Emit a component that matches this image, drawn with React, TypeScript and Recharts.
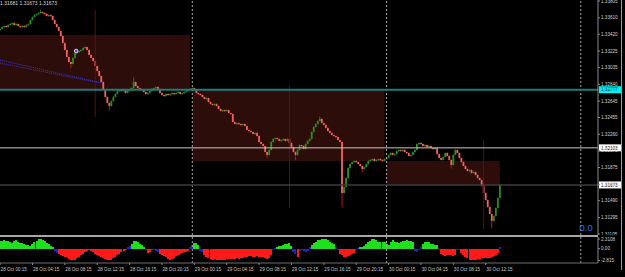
import React from 'react';
import {
  ComposedChart,
  Bar,
  XAxis,
  YAxis,
  ReferenceLine,
  ReferenceArea,
  ReferenceDot,
} from 'recharts';

// ---------------- DATA ----------------
// M15 closes, bar index 1 = 28 Oct 00:15
const closes = [
  1.33481, 1.33504, 1.33516, 1.33504, 1.33527, 1.33539, 1.3355, 1.33527, 1.33539, 1.33516,
  1.33504, 1.33516, 1.33504, 1.33527, 1.33539, 1.33585, 1.3362, 1.33643, 1.33655, 1.33666,
  1.33678, 1.33666, 1.33655, 1.33632, 1.33643, 1.33632, 1.33585, 1.33539, 1.33504, 1.33458,
  1.334, 1.33319, 1.33238, 1.33156, 1.33098, 1.33075, 1.33145, 1.33203, 1.33214, 1.33226,
  1.33238, 1.33261, 1.33272, 1.33238, 1.3318, 1.33145, 1.3311, 1.33052, 1.32994, 1.32936,
  1.32867, 1.32774, 1.32693, 1.32623, 1.32589, 1.32646, 1.32693, 1.32728, 1.32762, 1.32774,
  1.32762, 1.32774, 1.32739, 1.32762, 1.32774, 1.32797, 1.32867, 1.3282, 1.32797, 1.32786,
  1.32774, 1.32751, 1.32728, 1.32739, 1.32762, 1.32786, 1.32797, 1.32809, 1.32786, 1.32739,
  1.32716, 1.32704, 1.32728, 1.32716, 1.32728, 1.32739, 1.32728, 1.32739, 1.32751, 1.32728,
  1.32739, 1.32751, 1.32762, 1.32774, 1.32786, 1.32797, 1.32774, 1.32739, 1.32728, 1.32716,
  1.32693, 1.3267, 1.32681, 1.32635, 1.32612, 1.326, 1.32612, 1.32589, 1.32554, 1.32531,
  1.32542, 1.32531, 1.32542, 1.32507, 1.32496, 1.32403, 1.3238, 1.32391, 1.3238, 1.32368,
  1.3238, 1.32357, 1.3231, 1.32299, 1.32287, 1.32264, 1.32276, 1.32241, 1.32171, 1.32148,
  1.32125, 1.32055, 1.32021, 1.32079, 1.32171, 1.32206, 1.32218, 1.32206, 1.32183, 1.32194,
  1.32206, 1.32183, 1.32206, 1.3216, 1.32113, 1.32055, 1.32021, 1.32079, 1.32136, 1.32125,
  1.3209, 1.32148, 1.32183, 1.32206, 1.32287, 1.32345, 1.3238, 1.32415, 1.32438, 1.32391,
  1.32368, 1.32334, 1.32299, 1.32276, 1.32252, 1.32241, 1.32229, 1.32194, 1.32171, 1.3158,
  1.3165, 1.31754, 1.3187, 1.31916, 1.31939, 1.31951, 1.31939, 1.31916, 1.31893, 1.31858,
  1.31882, 1.31916, 1.31951, 1.31963, 1.31974, 1.31951, 1.31963, 1.31974, 1.31963, 1.31951,
  1.31974, 1.31986, 1.32021, 1.32044, 1.32021, 1.32032, 1.32067, 1.32079, 1.32067, 1.32079,
  1.32055, 1.32044, 1.32009, 1.32021, 1.32055, 1.32079, 1.32148, 1.3216, 1.32148, 1.32125,
  1.32136, 1.32113, 1.32125, 1.32102, 1.3209, 1.32102, 1.32032, 1.31986, 1.31963, 1.31997,
  1.32044, 1.32009, 1.31963, 1.31905, 1.32021, 1.32079, 1.32044, 1.31986, 1.31939, 1.31893,
  1.31858, 1.31835, 1.31847, 1.31812, 1.31824, 1.31789, 1.31754, 1.31731, 1.31661, 1.3158,
  1.31499, 1.31418, 1.31337, 1.31256, 1.31314, 1.31406, 1.31522, 1.31673,
];
const firstOpen = 1.33469;
const wickHighs: Record<number, number> = { 67: 1.32913, 159: 1.32461, 21: 1.33701 };
const wickLows: Record<number, number> = {
  36: 1.33029, 55: 1.32542, 133: 1.31986, 147: 1.31963, 170: 1.31418,
  180: 1.31824, 224: 1.3187, 244: 1.31175,
};

// oscillator histogram, same bar index
const histValues = [
  1.9, 1.9, 2.0, 1.9, 1.8, 1.5, 1.3, 1.8, 2.0, 1.7,
  1.3, 1.3, 1.1, 0.85, 0.8, 0.6, 1.0, 1.6, 1.9, 2.2,
  2.3, 2.0, 1.8, 1.4, 1.1, 0.7, 0.4, -0.5, -1.1, -1.3,
  -1.5, -1.7, -1.9, -2.1, -2.4, -2.7, -2.8, -2.6, -2.3, -2.0,
  -1.6, -1.2, -0.8, -0.5, -0.4, -0.6, -0.9, -1.2, -1.5, -1.7,
  -1.9, -2.2, -2.5, -2.7, -2.8, -2.6, -2.3, -1.9, -1.5, -1.2,
  -0.9, -0.6, -0.4, 0.3, 0.6, 1.2, 1.9, 1.8, 1.6, 1.2,
  0.8, 0.5, -0.3, -1.0, -0.8, -0.3, -0.2, -0.6, -0.7, -1.2,
  -1.5, -1.8, -2.1, -2.4, -2.7, -2.5, -2.2, -1.8, -1.5, -1.2,
  -1.0, -0.8, -0.7, -0.6, 0.5, 0.9, 1.4, 1.3, 0.9, -0.6,
  -0.8, -1.5, -2.0, -2.3, -2.5, -2.6, -2.5, -2.6, -2.7, -2.8,
  -2.8, -2.6, -2.5, -2.5, -2.4, -2.5, -2.4, -2.3, -2.4, -2.3,
  -2.2, -2.0, -1.9, -1.8, -1.8, -1.9, -1.9, -1.8, -1.9, -2.0,
  -2.1, -2.2, -2.4, -2.3, -1.5, -0.3, 0.2, 0.5, 0.6, 0.7,
  0.8, 1.0, 1.2, 1.3, 0.6, -0.9, -1.3, -1.9, -0.5, -0.4,
  -0.6, -0.7, -0.5, 0.3, 0.9, 1.3, 1.7, 2.0, 2.1, 2.3,
  2.3, 2.2, 2.0, 1.7, 1.4, 1.2, 0.3, -0.3, -1.2, -1.6,
  -2.0, -2.0, -1.8, -1.6, -1.3, -1.0, -0.4, 0.2, 0.5, 0.5,
  0.6, 1.0, 1.5, 1.9, 2.2, 2.2, 2.0, 1.6, 1.5, 1.7,
  1.5, 1.0, 0.9, 1.7, 2.1, 1.6, 1.5, 1.3, 1.6, 1.9,
  1.9, 2.0, 1.8, 1.8, 1.5, -0.5, -0.8, -0.3, 0.3, 1.2,
  1.6, 1.7, 1.5, 1.2, 1.0, 0.9, 0.8, -0.4, -1.2, -1.5,
  -1.7, -1.6, -1.5, -1.6, -1.8, -1.4, -0.4, -0.2, -1.0, -1.5,
  -2.0, -2.3, -2.6, -2.8, -2.7, -2.6, -2.5, -2.4, -2.3, -2.3,
  -2.2, -2.3, -2.2, -2.0, -1.8, -1.5, -1.0, 0.4,
];
// buffer of each histogram bar: g = rising, r = falling, b = neutral
const histBuffer = (
  'gggggggggg gggggggggg gggggggbbr rrrrrrrrrr rrrrrrrrrr rrrrrrrrrr rrrbbggggg ggbrrbbbbr ' +
  'rrrrrrrrrr rrrrbbgggb brrrrrrrrr rrrrrrrrrr rrrrrrrrrr rrrrrbbggg gggggbbrbb bbbbgggggg ' +
  'ggggggbbrr rrrrrrbbgg gggggggggg gggggggggg gggggbbbbg gggggggbrr rrrrrrbbrr rrrrrrrrrr rrrrrrrb'
).replace(/ /g, '').split('');

// daily candles (D1 overlay)
const dailyStart = [0, 96, 192];
const dailyOpen = [1.33411, 1.32786, 1.31951];
const dailyHigh = [1.33701, 1.3282, 1.32194];
const dailyLow = [1.32461, 1.31406, 1.31163];
const dailyClose = [1.32786, 1.31951, 1.31673];

const daySeparators = [96, 192, 288];
const levelCyan = 1.32777;
const levelWhite = 1.32103;
const levelBid = 1.31673;

const trendLines = [
  { i1: 0.95, p1: 1.33121, i2: 51.4, p2: 1.32855 },
  { i1: 0.95, p1: 1.33086, i2: 50.5, p2: 1.32855 },
];
const markerDot = { i: 38.6, p: 1.33226 };

const priceTicks = [
  1.33805, 1.3361, 1.3342, 1.33225, 1.33035, 1.3284, 1.32645, 1.32455, 1.3226, 1.3207,
  1.31875, 1.3168, 1.3149, 1.31295, 1.31105,
];
const indTicks = [2.3108, 0, -2.815];
const indTickLabels = ['2.3108', '0.00', '-2.815'];

const timeTickIdx = [1, 17, 33, 49, 65, 81, 97, 113, 129, 145, 161, 177, 193, 209, 225, 241];
const timeLabels = [
  '28 Oct 00:15', '28 Oct 04:15', '28 Oct 08:15', '28 Oct 12:15', '28 Oct 16:15', '28 Oct 20:15',
  '29 Oct 00:15', '29 Oct 04:15', '29 Oct 08:15', '29 Oct 12:15', '29 Oct 16:15', '29 Oct 20:15',
  '30 Oct 00:15', '30 Oct 04:15', '30 Oct 08:15', '30 Oct 12:15',
];
const headerText = '1.31681 1.31673 1.31673';
const signalText = '0.0';

// ---------------- BUILD ----------------
const lastIndex = closes.length;
const candles = closes.map((c, k) => {
  const i = k + 1;
  const o = k === 0 ? firstOpen : closes[k - 1];
  const h = Math.max(o, c, wickHighs[i] ?? -Infinity);
  const l = Math.min(o, c, wickLows[i] ?? Infinity);
  return { i, o, c, h, l, range: [l, h] };
});
const hist = histValues.map((v, k) => ({ i: k + 1, h: v, s: histBuffer[k] }));

const STATE_COLORS: Record<string, string> = { g: '#1fe01f', r: '#ff1a1a', b: '#2222c8' };
const FONT = '"Liberation Sans", Arial, sans-serif';
const X_DOMAIN: [number, number] = [0.95, 296.5];
const AXIS_W = 27;

const CandleShape = (props: any) => {
  const { x, y, width, height, payload } = props;
  if (x == null || y == null || !payload) return null;
  const cx = x + width / 2;
  const top = Math.min(y, y + height);
  const bot = Math.max(y, y + height);
  const span = payload.h - payload.l;
  const toPx = (p: number) => (span > 0 ? top + ((payload.h - p) / span) * (bot - top) : top);
  const yo = toPx(payload.o);
  const yc = toPx(payload.c);
  const up = payload.c >= payload.o;
  const bTop = Math.min(yo, yc);
  const bH = Math.max(1.2, Math.abs(yc - yo));
  const wick = up ? '#287020' : '#b01a1a';
  const body = up ? '#2f8a22' : '#e96464';
  return (
    <g>
      <line x1={cx} x2={cx} y1={top - 0.5} y2={Math.max(bot, top + 1) + 0.5} stroke={wick} strokeWidth={1} />
      <rect x={cx - 0.9} y={bTop} width={1.8} height={bH} fill={body} />
    </g>
  );
};

const HistShape = (props: any) => {
  const { x, y, width, height, payload } = props;
  if (x == null || y == null || !payload) return null;
  const cx = x + width / 2;
  const top = Math.min(y, y + height);
  const h = Math.abs(height);
  return (
    <rect
      x={Math.round(cx - 1)}
      y={top}
      width={2}
      height={Math.max(h, 0.5)}
      fill={STATE_COLORS[payload.s] || STATE_COLORS.b}
      shapeRendering="crispEdges"
    />
  );
};

const priceTag = (bg: string, fg: string, text: string) => (props: any) => {
  const vb = props.viewBox || {};
  const x = (vb.x ?? 0) + (vb.width ?? 0);
  const y = vb.y ?? 0;
  return (
    <g>
      <rect x={x + 1} y={y - 3.5} width={22} height={7} fill={bg} />
      <text x={x + 3} y={y + 1.7} fontSize={4.6} fontFamily={FONT} fill={fg}>
        {text}
      </text>
    </g>
  );
};

const TimeTick = (props: any) => {
  const { x, y, payload } = props;
  const idx = timeTickIdx.indexOf(payload?.value);
  if (idx < 0) return null;
  return (
    <g>
      <line x1={x} x2={x} y1={y - 2} y2={y} stroke="#8a8a8a" strokeWidth={1} />
      <text x={x + 0.5} y={y + 6} fontSize={4.6} fontFamily={FONT} fill="#c8c8c8" textAnchor="start">
        {timeLabels[idx]}
      </text>
    </g>
  );
};

export default function App() {
  return (
    <div
      style={{
        position: 'absolute',
        left: 0,
        top: 0,
        width: 625,
        height: 277,
        background: '#000',
        overflow: 'hidden',
      }}
    >
      <div style={{ position: 'absolute', left: 0, top: 0 }}>
        <ComposedChart width={625} height={235} data={candles} margin={{ top: 0, right: 0, bottom: 0, left: 0 }}>
          <XAxis dataKey="i" type="number" domain={X_DOMAIN} allowDataOverflow hide />
          <YAxis
            orientation="right"
            width={AXIS_W}
            type="number"
            domain={[1.31093, 1.33817]}
            allowDataOverflow
            ticks={priceTicks}
            interval={0}
            tickFormatter={(v: number) => v.toFixed(5)}
            tick={{ fill: '#d0d0d0', fontSize: 4.6, fontFamily: FONT }}
            tickSize={2}
            tickMargin={1}
            axisLine={{ stroke: '#8c8c8c' }}
            tickLine={{ stroke: '#8c8c8c' }}
          />
          {dailyStart.map((s, d) => (
            <ReferenceArea
              key={'box' + d}
              x1={s}
              x2={Math.min(s + 95, lastIndex)}
              y1={dailyOpen[d]}
              y2={dailyClose[d]}
              ifOverflow="hidden"
              fill="#2d0d0a"
              fillOpacity={1}
              stroke="none"
            />
          ))}
          {dailyStart.map((s, d) => (
            <ReferenceLine
              key={'wick' + d}
              segment={[
                { x: s + 48, y: dailyHigh[d] },
                { x: s + 48, y: dailyLow[d] },
              ]}
              stroke="#5a1410"
              strokeWidth={1}
            />
          ))}
          {daySeparators.map((s) => (
            <ReferenceLine key={'sep' + s} x={s} stroke="#a8a8a8" strokeDasharray="2 2" strokeWidth={1} />
          ))}
          <ReferenceLine
            y={levelCyan}
            stroke="#1d7c7c"
            strokeWidth={2}
            label={priceTag('#00f2f2', '#00303a', levelCyan.toFixed(5))}
          />
          <ReferenceLine
            y={levelWhite}
            stroke="#c8c8c8"
            strokeWidth={1}
            label={priceTag('#ffffff', '#000000', levelWhite.toFixed(5))}
          />
          <ReferenceLine
            y={levelBid}
            stroke="#3c3c3c"
            strokeWidth={1.5}
            label={priceTag('#ffffff', '#000000', levelBid.toFixed(5))}
          />
          {trendLines.map((t, k) => (
            <ReferenceLine
              key={'tl' + k}
              segment={[
                { x: t.i1, y: t.p1 },
                { x: t.i2, y: t.p2 },
              ]}
              stroke="#3434cc"
              strokeDasharray="1 1"
              strokeWidth={1}
            />
          ))}
          <Bar dataKey="range" shape={CandleShape} barSize={2} isAnimationActive={false} />
          <ReferenceDot x={markerDot.i} y={markerDot.p} r={1.8} fill="#4040ff" stroke="#ffffff" strokeWidth={0.8} />
        </ComposedChart>
      </div>

      <div style={{ position: 'absolute', left: 0, top: 235 }}>
        <ComposedChart width={625} height={42} data={hist} margin={{ top: 2, right: 0, bottom: 0, left: 0 }}>
          <XAxis
            dataKey="i"
            type="number"
            domain={X_DOMAIN}
            allowDataOverflow
            ticks={timeTickIdx}
            interval={0}
            height={14}
            tick={<TimeTick />}
            tickSize={2}
            tickMargin={0}
            tickLine={false}
            axisLine={{ stroke: '#6e6e6e' }}
          />
          <YAxis
            orientation="right"
            width={AXIS_W}
            type="number"
            domain={[-3.417, 2.788]}
            allowDataOverflow
            ticks={indTicks}
            interval={0}
            tickFormatter={(v: number, idx: number) => indTickLabels[indTicks.indexOf(v)] ?? indTickLabels[idx]}
            tick={{ fill: '#d0d0d0', fontSize: 4.6, fontFamily: FONT }}
            tickSize={2}
            tickMargin={1}
            axisLine={{ stroke: '#8c8c8c' }}
            tickLine={{ stroke: '#8c8c8c' }}
          />
          {daySeparators.map((s) => (
            <ReferenceLine key={'isep' + s} x={s} stroke="#a8a8a8" strokeDasharray="2 2" strokeWidth={1} />
          ))}
          <Bar dataKey="h" barSize={2} shape={HistShape} isAnimationActive={false} />
        </ComposedChart>
      </div>

      {/* pane separator and right border */}
      <div style={{ position: 'absolute', left: 0, top: 235, width: 598, height: 1.5, background: '#a6a6a6' }} />
      <div style={{ position: 'absolute', left: 621, top: 0, width: 1, height: 270, background: '#9a9a9a' }} />

      <svg style={{ position: 'absolute', left: 0, top: 0 }} width={625} height={277}>
        <text x={0} y={4.8} fontSize={5} fontFamily={FONT} fill="#d8d8d8">
          {headerText}
        </text>
        <text x={579.5} y={231} fontSize={9.5} fontFamily={FONT} fill="#1f74e6">
          {signalText}
        </text>
      </svg>
    </div>
  );
}
